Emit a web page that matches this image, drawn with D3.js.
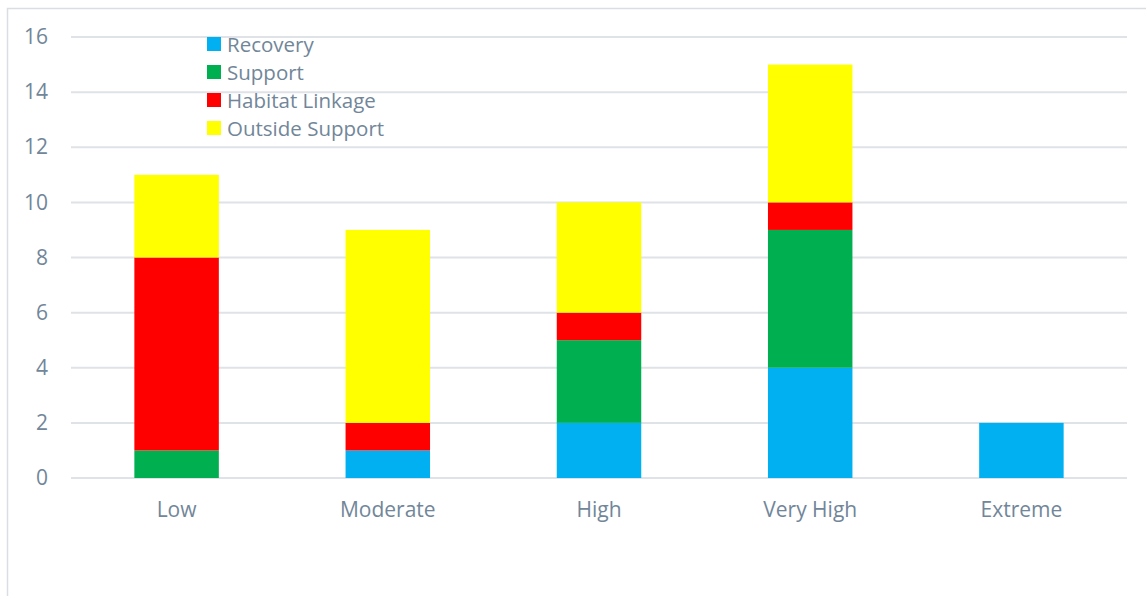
<!DOCTYPE html>
<html><head><meta charset="utf-8">
<script src="https://cdn.jsdelivr.net/npm/d3@7"></script>
<style>body{margin:0;background:#fff}svg{display:block}</style>
</head><body><svg id="c" width="1146" height="596"></svg>
<script>
const categories = ["Low","Moderate","High","Very High","Extreme"];
const seriesNames = ["Recovery","Support","Habitat Linkage","Outside Support"];
const recovery = [0,1,2,4,2];
const support = [1,0,3,5,0];
const habitatLinkage = [7,1,1,1,0];
const outsideSupport = [3,7,4,5,0];
const yTicks = [0,2,4,6,8,10,12,14,16];
const colors = ["#00b0f0","#00b050","#ff0000","#ffff00"];

const svg = d3.select("#c");
const textColor = "#718699";
const font = "'Open Sans', sans-serif";

// outer border
svg.append("path").attr("d","M7.5,596 L7.5,8.5 L1146,8.5").attr("fill","none").attr("stroke","#dadde2").attr("stroke-width",1.5);

const x = d3.scaleBand().domain(categories).range([71,1127]).paddingInner(0.6).paddingOuter(0.3);
const y = d3.scaleLinear().domain([0,16]).range([478,37]);

// gridlines
svg.append("g").selectAll("line").data(yTicks).join("line")
  .attr("x1",71).attr("x2",1127).attr("y1",d=>y(d)).attr("y2",d=>y(d))
  .attr("stroke","#dfe2e6").attr("stroke-width",2);

// y tick labels
const yAxis = d3.axisLeft(y).tickValues(yTicks).tickSize(0).tickPadding(0);
const ga = svg.append("g").attr("transform","translate(48,0)").call(yAxis);
ga.select(".domain").remove();
ga.selectAll("text").attr("fill",textColor).style("font-family",font).style("font-size","21px");

// x labels
const xAxis = d3.axisBottom(x).tickSize(0).tickPadding(0);
const gx = svg.append("g").attr("transform","translate(0,517)").call(xAxis);
gx.select(".domain").remove();
gx.selectAll("text").attr("dy","0").attr("fill",textColor).style("font-family",font).style("font-size","21px");

// stacked data
const rows = categories.map((c,i)=>({cat:c, "Recovery":recovery[i], "Support":support[i], "Habitat Linkage":habitatLinkage[i], "Outside Support":outsideSupport[i]}));
const stack = d3.stack().keys(seriesNames)(rows);
svg.append("g").selectAll("g").data(stack).join("g").attr("fill",(d,i)=>colors[i])
  .selectAll("rect").data(d=>d.filter(e=>e[1]-e[0]>0)).join("rect")
  .attr("x",d=>x(d.data.cat)).attr("width",x.bandwidth())
  .attr("y",d=>y(d[1])).attr("height",d=>y(d[0])-y(d[1]));

// legend
const lg = svg.append("g").attr("transform","translate(207,44)");
const li = lg.selectAll("g").data(seriesNames).join("g").attr("transform",(d,i)=>`translate(0,${i*28})`);
li.append("rect").attr("x",0).attr("y",-7).attr("width",14).attr("height",14).attr("fill",(d,i)=>colors[i]);
li.append("text").attr("x",20).attr("y",7.5).text(d=>d).attr("fill",textColor).style("font-family",font).style("font-size","20.5px");
</script></body></html>
